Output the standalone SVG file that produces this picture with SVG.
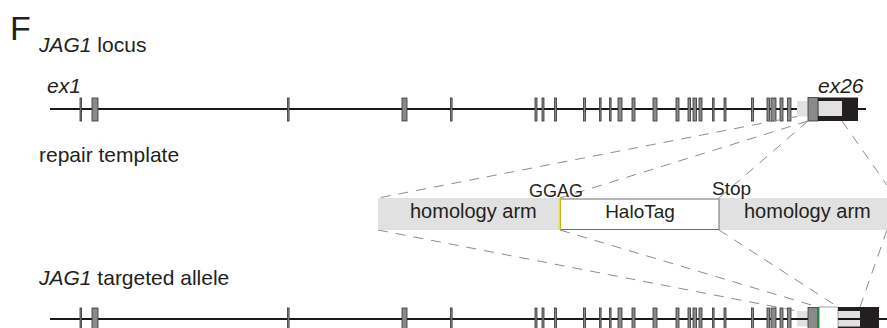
<svg xmlns="http://www.w3.org/2000/svg" width="887" height="328" viewBox="0 0 887 328">
<defs>
<style>
text{font-family:"Liberation Sans",Arial,sans-serif;fill:#231f20;font-size:19px}
.row{font-size:21px}
.arm{font-size:20px}
.it{font-style:italic}
.gl{stroke:#1a1a1a;stroke-width:1.8}
.ex{fill:#8a8a8a;stroke:#333;stroke-width:0.8}
.lt{fill:#e1e1e1}
.dash{stroke:#8c8c8c;stroke-width:1;stroke-dasharray:10 8;fill:none}
</style>
<g id="exons">
<rect class="ex" x="80" y="-11.5" width="1.6" height="23"/>
<rect class="ex" x="92" y="-11.5" width="6" height="23"/>
<rect class="ex" x="287.5" y="-11.5" width="1.6" height="23"/>
<rect class="ex" x="402" y="-11.5" width="5" height="23"/>
<rect class="ex" x="450.5" y="-11.5" width="1.6" height="23"/>
<rect class="ex" x="535" y="-11.5" width="2" height="23"/>
<rect class="ex" x="542" y="-11.5" width="2" height="23"/>
<rect class="ex" x="554.5" y="-11.5" width="2" height="23"/>
<rect class="ex" x="583.5" y="-11.5" width="2" height="23"/>
<rect class="ex" x="599.5" y="-11.5" width="1.6" height="23"/>
<rect class="ex" x="609.5" y="-11.5" width="1.6" height="23"/>
<rect class="ex" x="618" y="-11.5" width="4" height="23"/>
<rect class="ex" x="632" y="-11.5" width="3" height="23"/>
<rect class="ex" x="653" y="-11.5" width="4" height="23"/>
<rect class="ex" x="676" y="-11.5" width="3" height="23"/>
<rect class="ex" x="688" y="-11.5" width="2.5" height="23"/>
<rect class="ex" x="693" y="-11.5" width="3.5" height="23"/>
<rect class="ex" x="699" y="-11.5" width="3" height="23"/>
<rect class="ex" x="712.5" y="-11.5" width="1.6" height="23"/>
<rect class="ex" x="724" y="-11.5" width="2" height="23"/>
<rect class="ex" x="751.5" y="-11.5" width="2" height="23"/>
<rect class="ex" x="767" y="-11.5" width="2.5" height="23"/>
<rect class="ex" x="771" y="-11.5" width="5" height="23"/>
<rect class="ex" x="780" y="-11.5" width="3" height="23"/>
<rect class="ex" x="787.5" y="-11.5" width="3.5" height="23"/>
</g>
</defs>
<rect width="887" height="328" fill="#fff"/>
<text x="10" y="40" style="font-size:34px">F</text>

<g id="locus">
<text class="row" x="39" y="52"><tspan class="it">JAG1</tspan> locus</text>
<text class="row it" x="47" y="93">ex1</text>
<text class="row it" x="818" y="93">ex26</text>
<line class="gl" x1="50" y1="109" x2="866" y2="109"/>
<use href="#exons" transform="translate(0,109.5)"/>
<rect class="lt" x="797" y="101" width="11" height="15.5"/>
<rect x="808" y="97.5" width="10" height="23.5" fill="#8a8a8a" stroke="#333" stroke-width="0.8"/>
<rect x="818" y="97.5" width="40" height="23.5" fill="#231f20"/>
<rect class="lt" x="818.5" y="101" width="23.5" height="15"/>
</g>

<g id="connectors">
<line class="dash" x1="797" y1="116.5" x2="378" y2="198"/>
<line class="dash" x1="808" y1="121" x2="560" y2="198"/>
<line class="dash" x1="808" y1="121" x2="719" y2="198"/>
<line class="dash" x1="842" y1="121" x2="896" y2="198"/>
<line class="dash" x1="378" y1="230" x2="797" y2="311"/>
<line class="dash" x1="560" y1="230" x2="818" y2="307"/>
<line class="dash" x1="719" y1="230" x2="838" y2="307"/>
<line class="dash" x1="887" y1="230" x2="860" y2="307"/>
</g>

<g id="template">
<text class="row" x="39" y="162">repair template</text>
<rect class="lt" x="378" y="198" width="182" height="32"/>
<rect class="lt" x="719" y="198" width="168" height="32"/>
<rect x="560.5" y="199" width="158.5" height="30.5" fill="#fff" stroke="#6d6d6d" stroke-width="1"/>
<rect x="558.6" y="198" width="2" height="32" fill="#f2e500"/>
<text class="arm" x="410" y="218">homology arm</text>
<text x="640" y="218" text-anchor="middle">HaloTag</text>
<text class="arm" x="744" y="218">homology arm</text>
<text x="529" y="197" style="font-size:18px">GGAG</text>
<text x="712" y="195">Stop</text>
</g>

<g id="allele">
<text class="row" x="39" y="285"><tspan class="it">JAG1</tspan> targeted allele</text>
<rect class="lt" x="797" y="311" width="11" height="15.5"/>
<rect class="lt" x="838" y="311" width="22" height="15.5"/>
<line class="gl" x1="50" y1="319" x2="887" y2="319"/>
<use href="#exons" transform="translate(0,319.5)"/>
<rect x="808" y="307.5" width="10" height="23.5" fill="#8a8a8a" stroke="#333" stroke-width="0.8"/>
<rect x="819" y="307" width="19" height="24" fill="#fff" stroke="#8c8c8c" stroke-width="0.8"/>
<rect x="817.8" y="307" width="1.4" height="24" fill="#1f8a3c"/>
<path d="M838 307H879V331H838ZM838 311V326.5H860V311Z" fill="#231f20" fill-rule="evenodd"/>
<line class="gl" x1="838" y1="319" x2="860" y2="319"/>
</g>
</svg>
